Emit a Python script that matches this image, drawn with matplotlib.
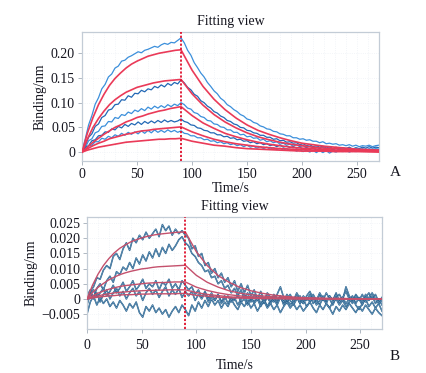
import numpy as np
import matplotlib
matplotlib.use("Agg")
import matplotlib.pyplot as plt

plt.rcParams['font.family'] = ['Liberation Serif', 'DejaVu Serif']
plt.rcParams['axes.unicode_minus'] = True

# time grids (s)
t_trace = np.arange(0, 271, 3)
t_fit = np.array([0, 5, 10, 15, 20, 25, 30, 35, 40, 45, 50, 55, 60, 65, 70, 75, 80, 85, 90,
                  100, 110, 120, 130, 140, 150, 160, 170, 180, 190, 200, 210, 220, 230, 240,
                  250, 260, 270])

# ---- panel A, values in 0.001 nm ----
a_raw1 = [2, 27, 55, 74, 97, 110, 128, 137, 152, 158,
          170, 174, 184, 186, 192, 195, 199, 203, 201, 206,
          208, 211, 214, 212, 217, 220, 218, 222, 221, 226,
          231, 221, 206, 196, 181, 171, 160, 152, 141, 133,
          124, 118, 109, 104, 96, 92, 86, 82, 76, 73,
          67, 65, 60, 58, 53, 51, 47, 46, 42, 41,
          37, 36, 33, 33, 29, 29, 26, 27, 24, 25,
          22, 22, 19, 21, 17, 18, 16, 17, 14, 15,
          13, 15, 12, 14, 11, 13, 12, 14, 11, 13,
          14]
a_raw2 = [1, 13, 30, 37, 52, 57, 70, 74, 85, 87,
          96, 97, 106, 105, 114, 111, 119, 118, 125, 122,
          128, 126, 133, 130, 136, 132, 139, 135, 141, 138,
          146, 140, 131, 126, 117, 113, 104, 100, 93, 89,
          82, 79, 73, 70, 64, 62, 57, 55, 50, 49,
          44, 43, 39, 38, 34, 34, 30, 30, 26, 27,
          23, 24, 20, 21, 18, 19, 15, 17, 13, 15,
          11, 13, 10, 12, 8, 11, 7, 10, 6, 9,
          7, 10, 6, 9, 7, 10, 8, 11, 8, 10,
          9]
a_raw3 = [2, 9, 23, 27, 39, 42, 52, 53, 62, 61,
          70, 68, 76, 74, 81, 78, 85, 82, 88, 84,
          91, 87, 93, 89, 94, 90, 96, 92, 97, 94,
          100, 96, 89, 87, 80, 78, 72, 70, 64, 63,
          57, 56, 51, 50, 45, 45, 40, 40, 35, 36,
          31, 32, 28, 29, 24, 26, 21, 23, 19, 21,
          16, 18, 14, 16, 12, 15, 11, 13, 9, 12,
          8, 11, 7, 10, 6, 9, 5, 8, 5, 8,
          4, 7, 4, 8, 5, 7, 4, 7, 5, 7,
          6]
a_raw4 = [0, 10, 13, 23, 25, 33, 34, 41, 40, 47,
          45, 52, 49, 56, 52, 58, 55, 61, 56, 62,
          58, 63, 59, 64, 60, 65, 61, 64, 61, 63,
          67, 62, 60, 55, 54, 49, 48, 44, 43, 39,
          39, 35, 35, 31, 32, 28, 29, 25, 26, 22,
          23, 19, 21, 17, 19, 15, 17, 13, 15, 11,
          14, 10, 12, 9, 11, 8, 10, 6, 9, 5,
          8, 4, 7, 4, 7, 3, 6, 3, 6, 2,
          5, 3, 6, 2, 5, 3, 6, 2, 5, 3,
          5]
a_raw5 = [1, 5, 13, 14, 21, 21, 28, 26, 32, 29,
          35, 32, 38, 34, 40, 36, 41, 37, 43, 38,
          44, 39, 45, 40, 44, 40, 45, 41, 44, 40,
          43, 38, 37, 33, 33, 29, 29, 25, 26, 22,
          23, 19, 21, 17, 19, 15, 17, 13, 15, 11,
          14, 10, 12, 8, 11, 7, 10, 6, 9, 5,
          8, 4, 7, 3, 6, 2, 5, 1, 4, 0,
          4, -1, 3, -1, 3, -2, 2, 0, 4, 1,
          4, 0, 3, 1, 4, 2, 5, 1, 4, 2,
          4]

a_fit1 = [0, 39, 70, 96, 117, 135, 149, 160, 170, 178, 184, 189, 194, 197, 200, 202, 204, 206, 207,
          166, 133, 107, 86, 69, 55, 44, 36, 29, 23, 18, 15, 12, 10, 8, 6, 5, 4]
a_fit2 = [0, 27, 50, 68, 83, 96, 106, 114, 121, 126, 131, 134, 137, 140, 142, 144, 145, 146, 147,
          118, 95, 76, 61, 49, 39, 31, 25, 20, 16, 13, 10, 8, 7, 5, 4, 4, 3]
a_fit3 = [0, 10, 20, 28, 36, 43, 50, 55, 61, 65, 70, 73, 77, 80, 83, 85, 88, 90, 92,
          74, 59, 48, 38, 31, 25, 20, 16, 13, 10, 8, 7, 5, 4, 3, 3, 2, 2]
a_fit4 = [0, 7, 13, 18, 22, 27, 30, 33, 36, 38, 41, 43, 44, 46, 47, 48, 49, 50, 51,
          41, 33, 26, 21, 17, 14, 11, 9, 7, 6, 5, 4, 3, 2, 2, 2, 1, 1]
a_fit5 = [0, 4, 7, 10, 12, 14, 16, 18, 20, 21, 22, 23, 24, 25, 26, 26, 27, 27, 28,
          22, 18, 14, 12, 9, 7, 6, 5, 4, 3, 2, 2, 2, 1, 1, 1, 1, 0]

# ---- panel B, values in 0.0001 nm ----
b_raw1 = [-10, 25, 40, 70, 65, 95, 110, 100, 140, 150,
          130, 165, 185, 160, 200, 185, 210, 195, 220, 200,
          215, 230, 205, 245, 225, 240, 210, 230, 215, 225,
          210, 200, 165, 175, 140, 150, 110, 120, 85, 100,
          70, 85, 55, 70, 40, 60, 25, 50, 20, 45,
          10, 30, 0, 25, -5, 20, 5, -10, 15, 40,
          5, -15, 10, -5, 20, 0, -15, 10, 25, 0,
          -10, 15, -5, 20, 0, -20, 5, 15, -5, 40,
          10, -10, 15, 0, -20, 5, 20, 0, 15, -10,
          5]
b_raw2 = [5, 20, 5, 35, 50, 30, 60, 75, 55, 90,
          80, 105, 95, 120, 100, 135, 115, 145, 125, 155,
          135, 165, 140, 170, 150, 180, 160, 175, 195, 205,
          185, 175, 150, 140, 120, 110, 90, 95, 70, 75,
          50, 60, 35, 45, 20, 35, 10, 30, 0, 20,
          -10, 15, -5, 10, -15, 5, -10, 15, -5, 10,
          -20, 0, 15, -10, 5, -15, 10, -5, 15, -15,
          0, -20, 5, -10, 10, -5, 20, -10, 5, -15,
          0, 10, -15, 5, -10, 15, -5, 10, -15, 0,
          -20]
b_raw3 = [-20, 15, 30, 5, 20, 35, 10, 25, 45, 20,
          35, 55, 25, 40, 60, 30, 45, 65, 35, 50,
          40, 60, 30, 55, 45, 65, 35, 50, 30, 60,
          45, 30, 40, 15, 30, 5, 25, 0, 20, -5,
          15, -10, 10, -15, 5, -5, 15, -10, 0, -20,
          5, -10, 10, -15, 0, -25, -5, 5, -15, 10,
          -10, 0, -20, -5, 10, -15, 0, -25, -10, 5,
          -20, -5, 10, -15, -30, -10, 0, -20, -5, -25,
          -10, 5, -20, -35, -15, 0, -25, -10, -30, -15,
          -40]
b_raw4 = [10, 30, 0, 20, -10, 15, 30, 0, 20, 35,
          10, 25, 0, 20, 35, 10, 25, -5, 20, 35,
          15, 30, 5, 25, 40, 10, 30, 15, 35, 5,
          25, 10, 25, -5, 15, 0, 20, -10, 10, -5,
          15, -15, 0, 10, -10, 5, -20, 0, 15, -10,
          5, -15, 0, -25, -5, 10, -15, 0, -20, 5,
          -10, 15, -5, -20, 0, 10, -15, 5, -10, 15,
          -5, 20, 0, -15, 10, -5, 15, -10, 5, 25,
          0, -15, 10, -5, 15, -10, 5, 20, 0, -15,
          -5]
b_raw5 = [-50, -10, 10, -20, 5, -15, 0, -25, -10, -30,
          -5, -20, -40, -15, -30, -10, -45, -60, -25, -40,
          -20, -45, -30, -50, -35, -60, -40, -25, -45, -20,
          -35, -55, -20, -40, -10, -30, -5, -25, 0, -20,
          -5, -30, -10, -25, 0, -20, -35, -10, -25, -5,
          -30, -15, -40, -20, -5, -30, -15, -35, -20, -45,
          -25, -10, -30, -15, -35, -20, -40, -25, -10, -30,
          -45, -20, -35, -15, -30, -50, -25, -40, -20, -35,
          -15, -30, -45, -25, -40, -20, -35, -50, -30, -45,
          -55]

b_fit1 = [0, 45, 81, 110, 133, 152, 167, 178, 188, 195, 201, 206, 210, 213, 215, 217, 219, 220, 221,
          156, 110, 77, 55, 38, 27, 19, 13, 9, 6, 4, 3, 2, 2, 1, 1, 0, 0]
b_fit2 = [0, 21, 38, 51, 63, 72, 80, 86, 91, 95, 99, 101, 104, 106, 107, 108, 109, 110, 111,
          78, 55, 39, 27, 19, 14, 10, 7, 5, 3, 2, 2, 1, 1, 1, 0, 0, 0]
b_fit3 = [0, 10, 19, 26, 32, 37, 41, 44, 46, 48, 50, 52, 53, 54, 54, 55, 56, 56, 56,
          39, 28, 20, 14, 10, 7, 5, 3, 2, 2, 1, 1, 1, 0, 0, 0, 0, 0]
b_fit4 = [0, 6, 10, 14, 17, 20, 22, 23, 25, 26, 27, 28, 28, 29, 29, 30, 30, 30, 30,
          21, 15, 11, 7, 5, 4, 3, 2, 1, 1, 1, 0, 0, 0, 0, 0, 0, 0]
b_fit5 = [0, 3, 6, 8, 10, 11, 13, 14, 14, 15, 16, 16, 17, 17, 17, 17, 17, 18, 18,
          12, 9, 6, 4, 3, 2, 1, 1, 1, 0, 0, 0, 0, 0, 0, 0, 0, 0]

x_ticks = [0, 50, 100, 150, 200, 250]
a_yticks = [0, 0.05, 0.10, 0.15, 0.20]
a_ylabels = ["0", "0.05", "0.10", "0.15", "0.20"]
b_yticks = [-0.005, 0, 0.005, 0.010, 0.015, 0.020, 0.025]
b_ylabels = ["\u22120.005", "0", "0.005", "0.010", "0.015", "0.020", "0.025"]

W, H = 427, 373
fig = plt.figure(figsize=(W / 100, H / 100), dpi=100)
TXT = '#15151f'


def style(ax, yt, yl, ylim, xpad, xlabpad):
    ax.set_xlim(0, 270)
    ax.set_ylim(*ylim)
    ax.set_xticks(x_ticks)
    ax.set_xticklabels([str(v) for v in x_ticks])
    ax.set_yticks(yt)
    ax.set_yticklabels(yl)
    ax.set_xticks(np.arange(0, 271, 10), minor=True)
    ax.grid(True, which='minor', axis='x', color='#eef1f6', lw=0.6, ls=':')
    ax.grid(True, which='major', axis='both', color='#eef1f6', lw=0.6, ls=':')
    for s in ax.spines.values():
        s.set_color('#c3ccd6')
        s.set_linewidth(0.9)
    ax.tick_params(axis='both', which='major', labelsize=10, length=3, width=0.7,
                   color='#b0b8c2', pad=2, labelcolor=TXT)
    ax.tick_params(axis='x', which='major', pad=xpad)
    ax.tick_params(axis='both', which='minor', length=0)
    ax.axvline(90, color='#e0102c', lw=1.3, ls=(0, (1.2, 1.0)), zorder=5)
    ax.set_title("Fitting view", fontsize=10, pad=5, color=TXT)
    ax.set_xlabel("Time/s", fontsize=10, labelpad=xlabpad, color=TXT)
    ax.set_ylabel("Binding/nm", fontsize=10, labelpad=3, color=TXT)


# panel A
ax1 = fig.add_axes([82 / W, 1 - 161 / H, (379 - 82) / W, (161 - 32) / H])
blues_a = ['#3b8fdb', '#2268b5', '#3b8fdb', '#2268b5', '#3b8fdb']
for raw, c in zip([a_raw1, a_raw2, a_raw3, a_raw4, a_raw5], blues_a):
    ax1.plot(t_trace, np.array(raw) * 1e-3, color=c, lw=0.9, zorder=2)
for fit in [a_fit1, a_fit2, a_fit3, a_fit4, a_fit5]:
    ax1.plot(t_fit, np.array(fit) * 1e-3, color='#ea3a58', lw=1.2, zorder=3)
style(ax1, a_yticks, a_ylabels, (-0.018, 0.243), 2, 1)
fig.text(395 / W, 1 - 172 / H, "A", fontsize=11, ha='center', va='center', color=TXT)

# panel B
ax2 = fig.add_axes([87 / W, 1 - 329 / H, (382 - 87) / W, (329 - 217) / H])
for raw in [b_raw1, b_raw2, b_raw3, b_raw4, b_raw5]:
    y = np.array(raw) * 1e-4
    ax2.plot(t_trace, y, color='#1b5685', lw=1.1, zorder=2)
    ax2.plot(t_trace, y, color='#86b0cd', lw=0.35, zorder=2)
for fit in [b_fit1, b_fit2, b_fit3, b_fit4, b_fit5]:
    ax2.plot(t_fit, np.array(fit) * 1e-4, color='#c4506c', lw=1.0, zorder=3)
style(ax2, b_yticks, b_ylabels, (-0.0099, 0.027), 4, 5)
fig.text(395 / W, 1 - 357 / H, "B", fontsize=11, ha='center', va='center', color=TXT)

fig.savefig("out.png", dpi=100)
